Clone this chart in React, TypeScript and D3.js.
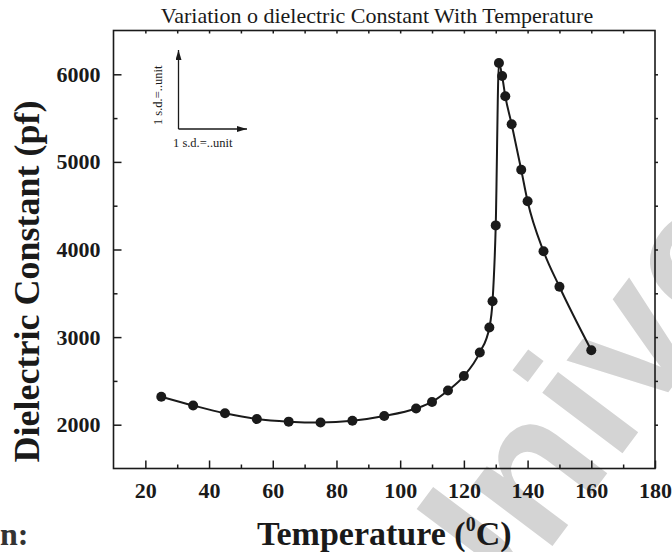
import { useEffect, useMemo, useRef } from 'react';
import * as d3 from 'd3';

const WIDTH = 672;
const HEIGHT = 552;
const PLOT = { left: 113.5, right: 655, top: 30.5, bottom: 468.5 };
const SERIF = "'Liberation Serif', 'Times New Roman', serif";

// temperature (°C) and dielectric constant (pf)
const TEMPERATURE = [25, 35, 45, 55, 65, 75, 85, 95, 105, 110, 115, 120, 125, 128, 129, 130, 131, 132, 133, 135, 138, 140, 145, 150, 160];
const DIELECTRIC = [2320, 2220, 2130, 2065, 2035, 2025, 2045, 2100, 2185, 2260, 2390, 2555, 2825, 3110, 3410, 4275, 6130, 5980, 5750, 5430, 4910, 4550, 3980, 3575, 2850];

const X_MAJOR = [20, 40, 60, 80, 100, 120, 140, 160, 180];
const X_MINOR = [30, 50, 70, 90, 110, 130, 150, 170];
const X_TOP = [20, 30, 40, 50, 60, 70, 80, 90, 100, 110, 120, 130, 140, 150, 160, 170];
const Y_MAJOR = [2000, 3000, 4000, 5000, 6000];
const Y_MINOR = [2500, 3500, 4500, 5500];
const Y_RIGHT = [2000, 2500, 3000, 3500, 4000, 4500, 5000, 5500, 6000];

export default function App() {
  const bottomRef = useRef<SVGGElement>(null);
  const bottomMinorRef = useRef<SVGGElement>(null);
  const leftRef = useRef<SVGGElement>(null);
  const leftMinorRef = useRef<SVGGElement>(null);
  const topRef = useRef<SVGGElement>(null);
  const rightRef = useRef<SVGGElement>(null);

  const x = useMemo(() => d3.scaleLinear().domain([10, 180]).range([PLOT.left, PLOT.right]), []);
  const y = useMemo(() => d3.scaleLinear().domain([1500, 6500]).range([PLOT.bottom, PLOT.top]), []);

  const points = TEMPERATURE.map((t, i) => [t, DIELECTRIC[i]] as [number, number]);
  const linePath = d3
    .line<[number, number]>()
    .x((d) => x(d[0]))
    .y((d) => y(d[1]))
    .curve(d3.curveMonotoneX)(points);

  useEffect(() => {
    const style = (g: d3.Selection<SVGGElement, unknown, null, undefined>) => {
      g.select('.domain').remove();
      g.selectAll('line').attr('stroke', '#1a1a1a').attr('stroke-width', 1.5);
      g.selectAll('text')
        .attr('font-family', SERIF)
        .attr('font-weight', 'bold')
        .attr('font-size', 22)
        .attr('fill', '#1a1a1a');
    };
    d3.select(bottomRef.current!)
      .call(d3.axisBottom(x).tickValues(X_MAJOR).tickSize(-8).tickPadding(14).tickFormat(d3.format('d')))
      .call(style);
    d3.select(bottomMinorRef.current!)
      .call(d3.axisBottom(x).tickValues(X_MINOR).tickSize(-4).tickFormat(() => ''))
      .call(style);
    d3.select(leftRef.current!)
      .call(d3.axisLeft(y).tickValues(Y_MAJOR).tickSize(-8).tickPadding(13).tickFormat(d3.format('d')))
      .call(style);
    d3.select(leftMinorRef.current!)
      .call(d3.axisLeft(y).tickValues(Y_MINOR).tickSize(-4).tickFormat(() => ''))
      .call(style);
    d3.select(topRef.current!)
      .call(d3.axisTop(x).tickValues(X_TOP).tickSize(-3).tickFormat(() => ''))
      .call(style);
    d3.select(rightRef.current!)
      .call(d3.axisRight(y).tickValues(Y_RIGHT).tickSize(3).tickFormat(() => ''))
      .call(style);
  }, [x, y]);

  const cx = (PLOT.left + PLOT.right) / 2;

  return (
    <svg
      width={WIDTH}
      height={HEIGHT}
      viewBox={`0 0 ${WIDTH} ${HEIGHT}`}
      style={{ position: 'absolute', left: 0, top: 0, background: '#fff' }}
    >
      {/* watermark */}
      <text
        transform="translate(462,666) rotate(-53)"
        fontFamily="'Liberation Sans', Arial, sans-serif"
        fontWeight="bold"
        fontSize={190}
        fill="#d4d4d4"
      >
        University
      </text>

      <text x={377} y={23} textAnchor="middle" fontFamily={SERIF} fontSize={22} fill="#1a1a1a">
        Variation o dielectric Constant With Temperature
      </text>

      <rect
        x={PLOT.left}
        y={PLOT.top}
        width={PLOT.right - PLOT.left}
        height={PLOT.bottom - PLOT.top}
        fill="none"
        stroke="#1a1a1a"
        strokeWidth={1.6}
      />
      <g ref={bottomRef} transform={`translate(0,${PLOT.bottom})`} />
      <g ref={bottomMinorRef} transform={`translate(0,${PLOT.bottom})`} />
      <g ref={leftRef} transform={`translate(${PLOT.left},0)`} />
      <g ref={leftMinorRef} transform={`translate(${PLOT.left},0)`} />
      <g ref={topRef} transform={`translate(0,${PLOT.top})`} />
      <g ref={rightRef} transform={`translate(${PLOT.right},0)`} />

      {/* scale-bar inset */}
      <defs>
        <marker id="arrowHead" viewBox="0 0 10 6" refX="10" refY="3" markerWidth="10" markerHeight="6" markerUnits="userSpaceOnUse" orient="auto">
          <path d="M0,0 L10,3 L0,6 Z" fill="#1a1a1a" />
        </marker>
      </defs>
      <path d="M178.5,129 L178.5,50" stroke="#1a1a1a" strokeWidth={1.3} markerEnd="url(#arrowHead)" />
      <path d="M178.5,129 L247,129" stroke="#1a1a1a" strokeWidth={1.3} markerEnd="url(#arrowHead)" />
      <text x={173} y={146.5} fontFamily={SERIF} fontSize={12.5} fill="#1a1a1a">
        1 s.d.=..unit
      </text>
      <text transform="translate(161.5,125) rotate(-90)" fontFamily={SERIF} fontSize={12.5} fill="#1a1a1a">
        1 s.d.=..unit
      </text>

      {/* data */}
      <path d={linePath ?? ''} fill="none" stroke="#1a1a1a" strokeWidth={2} />
      {points.map((d, i) => (
        <circle key={i} cx={x(d[0])} cy={y(d[1])} r={5} fill="#1a1a1a" />
      ))}

      {/* axis titles */}
      <text
        x={cx}
        y={545}
        textAnchor="middle"
        fontFamily={SERIF}
        fontWeight="bold"
        fontSize={34}
        fill="#1a1a1a"
      >
        Temperature (<tspan fontSize={20} dy={-14}>0</tspan>
        <tspan dy={14}>C)</tspan>
      </text>
      <text
        transform={`translate(39,${(98 + 465) / 2}) rotate(-90)`}
        textAnchor="middle"
        fontFamily={SERIF}
        fontWeight="bold"
        fontSize={36}
        fill="#1a1a1a"
      >
        Dielectric Constant (pf)
      </text>

      <text x={0} y={545} fontFamily={SERIF} fontWeight="bold" fontSize={32} fill="#333">
        n:
      </text>
    </svg>
  );
}
